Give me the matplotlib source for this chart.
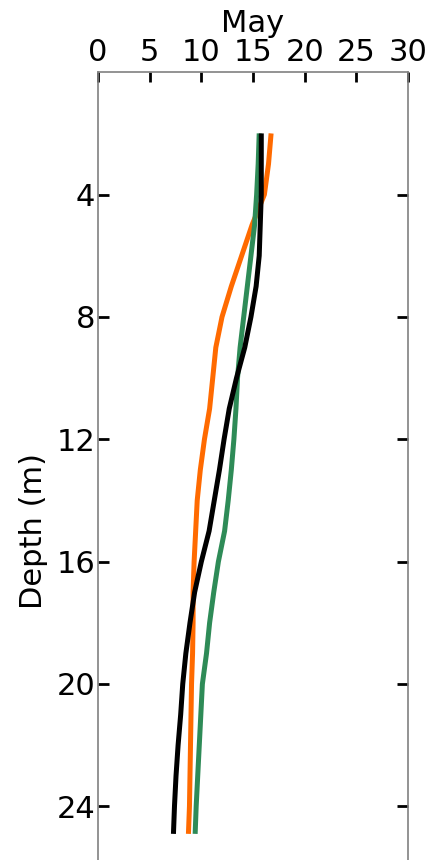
import matplotlib.pyplot as plt

depth = [2, 3, 4, 5, 6, 7, 8, 9, 10, 11, 12, 13, 14, 15, 16, 17, 18, 19, 20, 21, 22, 23, 24, 24.9]
orange = [16.75, 16.5, 16.1, 14.9, 13.9, 12.9, 12.0, 11.4, 11.1, 10.8, 10.3, 9.9,
          9.6, 9.45, 9.3, 9.2, 9.2, 9.15, 9.05, 9.0, 8.95, 8.9, 8.85, 8.75]
black = [15.8, 15.8, 15.8, 15.7, 15.6, 15.3, 14.8, 14.2, 13.4, 12.7, 12.2, 11.75,
         11.25, 10.75, 10.0, 9.35, 8.9, 8.5, 8.2, 8.0, 7.75, 7.55, 7.4, 7.3]
green = [15.6, 15.5, 15.35, 15.15, 14.8, 14.45, 14.1, 13.75, 13.5, 13.35, 13.15, 12.9,
         12.6, 12.25, 11.65, 11.2, 10.8, 10.5, 10.1, 9.95, 9.8, 9.65, 9.5, 9.4]

xticks = [0, 5, 10, 15, 20, 25, 30]
yticks = [4, 8, 12, 16, 20, 24]

fig = plt.figure(figsize=(4.36, 8.6), dpi=100)
# axes runs past the bottom of the image (down to 30 m)
ax = fig.add_axes([0.2248, -0.151, 0.711, 1.067])

ax.plot(orange, depth, color='#ff6a00', lw=3.6, solid_capstyle='butt')
ax.plot(green, depth, color='#2e8b57', lw=3.6, solid_capstyle='butt')
ax.plot(black, depth, color='black', lw=3.6, solid_capstyle='butt')

ax.set_xlim(0, 30)
ax.set_ylim(30, 0)
ax.set_xticks(xticks)
ax.set_yticks(yticks)

ax.xaxis.tick_top()
ax.xaxis.set_label_position('top')
ax.set_xlabel('May', fontsize=22, labelpad=4)
ax.set_ylabel('Depth (m)', fontsize=22, labelpad=6)

ax.tick_params(axis='x', direction='in', length=7, width=2, labelsize=22, pad=4)
ax.tick_params(axis='y', direction='in', length=8, width=2, labelsize=22, pad=2,
               right=True)
for s in ax.spines.values():
    s.set_color('#808080')
    s.set_linewidth(1.2)

fig.savefig('out.png', dpi=100)
